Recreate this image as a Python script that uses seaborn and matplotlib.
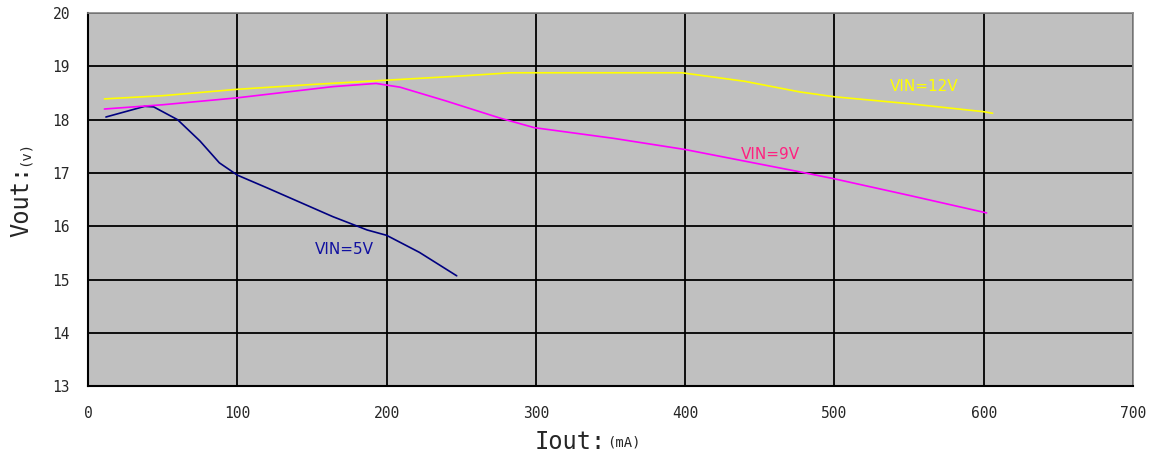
import numpy as np
import pandas as pd
import matplotlib
matplotlib.use('Agg')
import matplotlib.pyplot as plt
import seaborn as sns

# values
iout_5v = [12, 25, 38, 44, 60, 75, 88, 100, 120, 142, 164, 187, 200, 222, 247]
vout_5v = [18.05, 18.15, 18.25, 18.24, 18.0, 17.6, 17.19, 16.96, 16.72, 16.45, 16.18, 15.93, 15.83, 15.51, 15.07]

iout_9v = [11, 50, 100, 164, 193, 209, 240, 276, 299, 352, 400, 477, 500, 550, 602]
vout_9v = [18.2, 18.28, 18.41, 18.62, 18.68, 18.61, 18.35, 18.03, 17.85, 17.65, 17.44, 17.02, 16.89, 16.58, 16.25]

iout_12v = [11, 50, 100, 150, 193, 250, 283, 340, 398, 440, 477, 500, 550, 600, 606]
vout_12v = [18.39, 18.45, 18.57, 18.66, 18.73, 18.82, 18.88, 18.88, 18.88, 18.72, 18.52, 18.43, 18.3, 18.15, 18.12]

series_names = ['VIN=5V', 'VIN=9V', 'VIN=12V']
line_colors = ['#000080', '#FF00FF', '#FFFF00']
label_colors = ['#1010A0', '#FF2080', '#FFFF00']
label_pos = [(172, 15.57), (457, 17.34), (560, 18.62)]

x_ticks = [0, 100, 200, 300, 400, 500, 600, 700]
y_ticks = [13, 14, 15, 16, 17, 18, 19, 20]

df = pd.concat([
    pd.DataFrame({'Iout': iout_5v, 'Vout': vout_5v, 'VIN': series_names[0]}),
    pd.DataFrame({'Iout': iout_9v, 'Vout': vout_9v, 'VIN': series_names[1]}),
    pd.DataFrame({'Iout': iout_12v, 'Vout': vout_12v, 'VIN': series_names[2]}),
])

sns.set_style('white')
fig = plt.figure(figsize=(11.61, 4.68), dpi=100)
ax = fig.add_axes([0.0758, 0.175, 0.9, 0.797])
ax.set_facecolor('#C0C0C0')

sns.lineplot(data=df, x='Iout', y='Vout', hue='VIN', palette=dict(zip(series_names, line_colors)),
             linewidth=1.2, legend=False, ax=ax, sort=False)

for name, c, (lx, ly) in zip(series_names, label_colors, label_pos):
    ax.text(lx, ly, name, color=c, fontsize=11, ha='center', va='center', family='DejaVu Sans')

ax.set_xlim(0, 700)
ax.set_ylim(13, 20)
ax.set_xticks(x_ticks)
ax.set_yticks(y_ticks)
ax.grid(True, color='black', linewidth=1.3)
ax.set_axisbelow(True)
ax.tick_params(length=0, labelsize=10.5)
ax.tick_params(axis='x', pad=14)
ax.tick_params(axis='y', pad=13)
for lbl in ax.get_xticklabels() + ax.get_yticklabels():
    lbl.set_family('DejaVu Sans Mono')
for s in ['left', 'bottom']:
    ax.spines[s].set_color('black')
    ax.spines[s].set_linewidth(1.5)
for s in ['top', 'right']:
    ax.spines[s].set_color('#888888')
    ax.spines[s].set_linewidth(1.2)
ax.set_xlabel('')
ax.set_ylabel('')

# axis titles: big name, small unit
W, H = 1161, 468
fig.text(606 / W, 1 - 442 / H, 'Iout:', fontsize=17, family='DejaVu Sans Mono', ha='right', va='center')
fig.text(607 / W, 1 - 442 / H, '(mA)', fontsize=10, family='DejaVu Sans Mono', ha='left', va='center')
fig.text(21 / W, 1 - 166 / H, 'Vout:', fontsize=17, family='DejaVu Sans Mono', rotation=90, ha='center', va='top')
fig.text(25 / W, 1 - 166 / H, '(v)', fontsize=10, family='DejaVu Sans Mono', rotation=90, ha='center', va='bottom')

plt.savefig('out.png', dpi=100)
